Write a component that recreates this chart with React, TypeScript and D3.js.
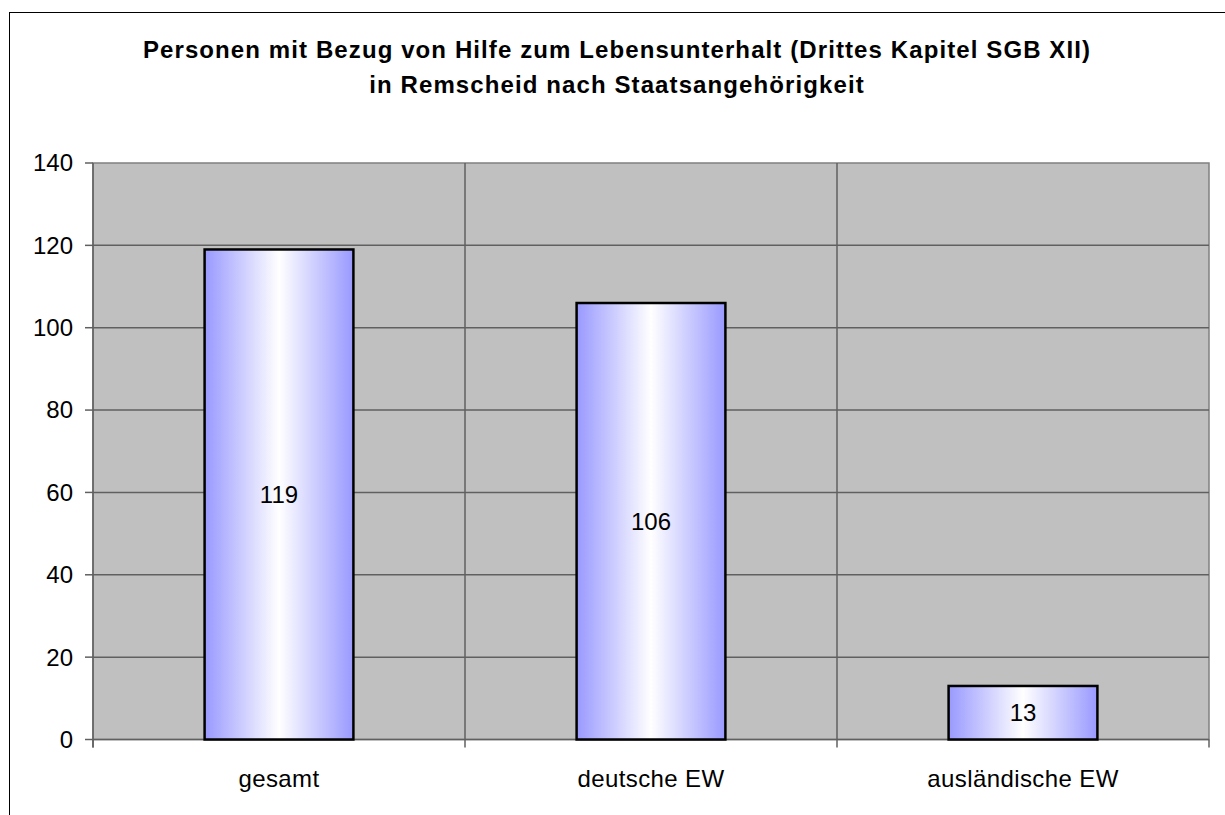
import React from "react";
import * as d3 from "d3";

const categories = ["gesamt", "deutsche EW", "ausländische EW"];
const values = [119, 106, 13];
const yTicks = [0, 20, 40, 60, 80, 100, 120, 140];
const titleLines = [
  "Personen mit Bezug von Hilfe zum Lebensunterhalt (Drittes Kapitel SGB XII)",
  "in Remscheid nach Staatsangehörigkeit",
];

export default function App() {
  const W = 1225, H = 815;
  const left = 93, right = 1209, top = 163, bottom = 739.5;
  const x = d3.scaleBand<string>().domain(categories).range([left, right]).paddingInner(0).paddingOuter(0);
  const y = d3.scaleLinear().domain([0, 140]).range([bottom, top]);
  const bw = x.bandwidth() * 0.4;
  const font = "'Liberation Sans', Arial, sans-serif";
  return (
    <svg width={W} height={H} style={{ position: "absolute", left: 0, top: 0 }} fontFamily={font}>
      <defs>
        <linearGradient id="barGrad" x1="0" x2="1" y1="0" y2="0">
          <stop offset="0" stopColor="#9999ff" />
          <stop offset="0.5" stopColor="#ffffff" />
          <stop offset="1" stopColor="#9999ff" />
        </linearGradient>
      </defs>
      <rect x={0} y={0} width={W} height={H} fill="#fff" />
      <rect x={9.5} y={12.5} width={1240} height={900} fill="none" stroke="#000" strokeWidth={1} />
      {titleLines.map((t, i) => (
        <text key={i} x={617} y={58 + i * 35} textAnchor="middle" fontSize={24} fontWeight="bold" letterSpacing={1.1} fill="#000">
          {t}
        </text>
      ))}
      <rect x={left} y={top} width={right - left} height={bottom - top} fill="#c0c0c0" stroke="#808080" strokeWidth={1.5} />
      {yTicks.map((t) => (
        <g key={t}>
          {t > 0 && t < 140 && (
            <line x1={left} x2={right} y1={y(t)} y2={y(t)} stroke="#606060" strokeWidth={1.5} />
          )}
          <line x1={left - 8} x2={left} y1={y(t)} y2={y(t)} stroke="#606060" strokeWidth={1.5} />
          <text x={73} y={y(t)} dy="0.35em" textAnchor="end" fontSize={24} fill="#000">
            {t}
          </text>
        </g>
      ))}
      {categories.slice(1).map((c) => (
        <line key={c} x1={x(c)!} x2={x(c)!} y1={top} y2={bottom} stroke="#606060" strokeWidth={1.5} />
      ))}
      {categories.map((c) => (
        <line key={"t" + c} x1={x(c)!} x2={x(c)!} y1={bottom} y2={bottom + 8} stroke="#606060" strokeWidth={1.5} />
      ))}
      <line x1={right} x2={right} y1={bottom} y2={bottom + 8} stroke="#606060" strokeWidth={1.5} />
      <line x1={left} x2={left} y1={top} y2={bottom + 8} stroke="#606060" strokeWidth={1.5} />
      <line x1={left} x2={right} y1={bottom} y2={bottom} stroke="#606060" strokeWidth={1.5} />
      {categories.map((c, i) => {
        const cx = x(c)! + x.bandwidth() / 2;
        const y0 = y(values[i]);
        return (
          <g key={"b" + c}>
            <rect x={cx - bw / 2} y={y0} width={bw} height={bottom - y0} fill="url(#barGrad)" stroke="#000" strokeWidth={2.5} />
            <text x={cx} y={(y0 + bottom) / 2} dy="0.35em" textAnchor="middle" fontSize={24} fill="#000">
              {values[i]}
            </text>
            <text x={cx} y={787} textAnchor="middle" fontSize={24} letterSpacing={0.4} fill="#000">
              {c}
            </text>
          </g>
        );
      })}
    </svg>
  );
}
